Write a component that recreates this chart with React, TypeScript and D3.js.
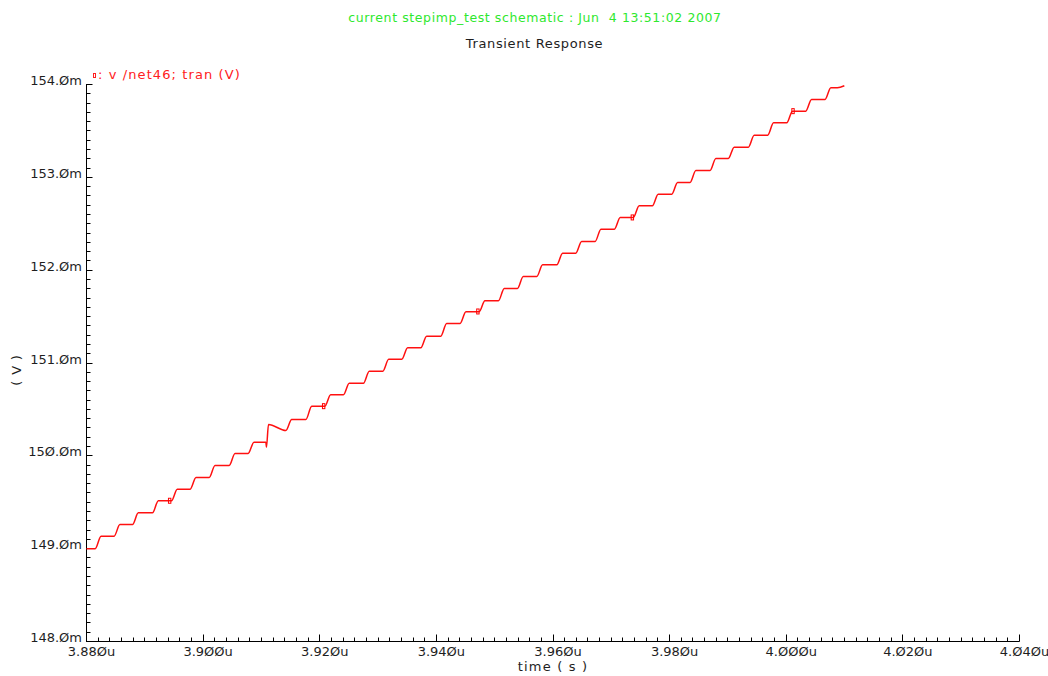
import React from "react";
import * as d3 from "d3";

// Staircase transient of v(/net46): step edge times (µs) and plateau levels (mV)
const stepEdges = [
  3.88149, 3.88473, 3.88789, 3.89132, 3.89457, 3.89778, 3.90104, 3.90447, 3.90772, 3.91076,
  3.91419, 3.91762, 3.92087, 3.92406, 3.92749, 3.93082, 3.93407, 3.93733, 3.94076, 3.94407,
  3.94733, 3.95064, 3.9539, 3.95722, 3.96065, 3.96391, 3.96722, 3.97053, 3.97378, 3.97704,
  3.98037, 3.9835, 3.98693, 3.99007, 3.9935, 3.99682, 4.00008, 4.00334, 4.00665,
];
const plateauLevels = [
  149.0, 149.134, 149.26, 149.386, 149.516, 149.641, 149.767, 149.896, 150.025, 150.147,
  150.338, 150.391, 150.535, 150.658, 150.782, 150.912, 151.041, 151.164, 151.289, 151.426,
  151.552, 151.67, 151.803, 151.932, 152.058, 152.183, 152.309, 152.441, 152.568, 152.694,
  152.819, 152.945, 153.074, 153.203, 153.325, 153.454, 153.588, 153.713, 153.839, 153.965,
];
// plateau 10 sags after the kick at 3.911u
const sagPlateau = 10;
const sagEndLevel = 150.273;
// dip just before the kick
const dipEdge = 9;
const dipLevel = 150.093;
const traceStart = 3.88;
const traceEnd = 4.00996;
const traceEndLevel = 153.986;

// small glitch loops along the trace
const glitchTimes = [3.89426, 3.92067, 3.94712, 3.97361, 4.00116];
const glitchLevels = [149.516, 150.535, 151.555, 152.568, 153.713];

// axes
const xMajorTicks = [3.88, 3.9, 3.92, 3.94, 3.96, 3.98, 4.0, 4.02, 4.04];
const yMajorTicks = [148, 149, 150, 151, 152, 153, 154];

const titleText = "current stepimp_test schematic : Jun  4 13:51:02 2007";
const subtitleText = "Transient Response";
const legendText = ": v /net46; tran (V)";
const xAxisTitle = "time ( s )";
const yAxisTitle = "( V )";

const W = 1048;
const H = 676;
const font = "'DejaVu Sans', sans-serif";
const ink = "#1e1e1e";

export default function App() {
  const x = d3.scaleLinear().domain([3.88, 4.04]).range([86.5, 1019.5]);
  const y = d3.scaleLinear().domain([148, 154]).range([641.5, 84.5]);

  const riseWidth = 0.001;
  const pts: [number, number][] = [[traceStart, plateauLevels[0]]];
  stepEdges.forEach((t, k) => {
    const endLevel = k === sagPlateau ? sagEndLevel : plateauLevels[k];
    pts.push([t, endLevel]);
    if (k === dipEdge) {
      pts.push([t + 0.0001, dipLevel]);
      pts.push([t + 0.00045, plateauLevels[k + 1]]);
    } else {
      pts.push([t + riseWidth, plateauLevels[k + 1]]);
    }
  });
  pts.push([traceEnd - 0.0012, plateauLevels[plateauLevels.length - 1]]);
  pts.push([traceEnd, traceEndLevel]);

  const line = d3
    .line<[number, number]>()
    .x((d) => x(d[0]))
    .y((d) => y(d[1]))
    .curve(d3.curveMonotoneX);

  const xMinor = d3.range(0, 81).map((i) => 3.88 + i * 0.002);
  const yMinor = d3.range(0, 61).map((i) => 148 + i * 0.1);

  const fmtX = (v: number) => d3.format(".3f")(v).replace(/0/g, "Ø") + "u";
  const fmtY = (v: number) => d3.format(".1f")(v).replace(/0/g, "Ø") + "m";

  return (
    <svg
      width={W}
      height={H}
      style={{ position: "absolute", left: 0, top: 0, background: "#fff" }}
      fontFamily={font}
    >
      <rect width={W} height={H} fill="#fff" />
      <text
        x={535}
        y={21.5}
        textAnchor="middle"
        fontSize={12.5}
        letterSpacing={0.6}
        fill="#2ee82e"
        style={{ whiteSpace: "pre" }}
      >
        {titleText}
      </text>
      <text x={534.5} y={47.5} textAnchor="middle" fontSize={13} letterSpacing={0.65} fill={ink}>
        {subtitleText}
      </text>

      {/* legend */}
      <rect x={93.5} y={73.5} width={2} height={4} fill="none" stroke="#ff2020" strokeWidth={1} />
      <text x={98} y={78.5} fontSize={13} letterSpacing={1.1} fill="#ff2020">
        {legendText}
      </text>

      {/* axes */}
      <line x1={86.5} x2={86.5} y1={84} y2={642} stroke="#000" />
      <line x1={86} x2={1019.5} y1={641.5} y2={641.5} stroke="#000" />
      {yMinor.map((v, i) => (
        <line
          key={"ym" + i}
          x1={86.5}
          x2={i % 10 === 0 ? 92.5 : 90.5}
          y1={Math.round(y(v) - 0.5) + 0.5}
          y2={Math.round(y(v) - 0.5) + 0.5}
          stroke="#000"
        />
      ))}
      {xMinor.map((v, i) => (
        <line
          key={"xm" + i}
          x1={Math.round(x(v) - 0.5) + 0.5}
          x2={Math.round(x(v) - 0.5) + 0.5}
          y1={641.5}
          y2={i % 10 === 0 ? 634.5 : 637.5}
          stroke="#000"
        />
      ))}
      {yMajorTicks.map((v) => (
        <text key={"yl" + v} x={82} y={y(v) + 0.5} textAnchor="end" fontSize={13} fill={ink}>
          {fmtY(v)}
        </text>
      ))}
      {xMajorTicks.map((v) => (
        <text key={"xl" + v} x={x(v) + 5} y={655.5} textAnchor="middle" fontSize={13} fill={ink}>
          {fmtX(v)}
        </text>
      ))}
      <text x={553} y={671} textAnchor="middle" fontSize={13} letterSpacing={1.2} fill={ink}>
        {xAxisTitle}
      </text>
      <text
        transform="translate(21,370) rotate(-90)"
        textAnchor="middle"
        fontSize={13}
        letterSpacing={0.8}
        fill={ink}
      >
        {yAxisTitle}
      </text>

      {/* trace */}
      <path d={line(pts) ?? ""} fill="none" stroke="#ff1010" strokeWidth={1.5} />
      {glitchTimes.map((t, i) => (
        <rect
          key={"g" + i}
          x={x(t) - 1.2}
          y={y(glitchLevels[i]) - 2.5}
          width={2.4}
          height={5}
          fill="none"
          stroke="#ff0000"
          strokeWidth={1}
        />
      ))}
    </svg>
  );
}
